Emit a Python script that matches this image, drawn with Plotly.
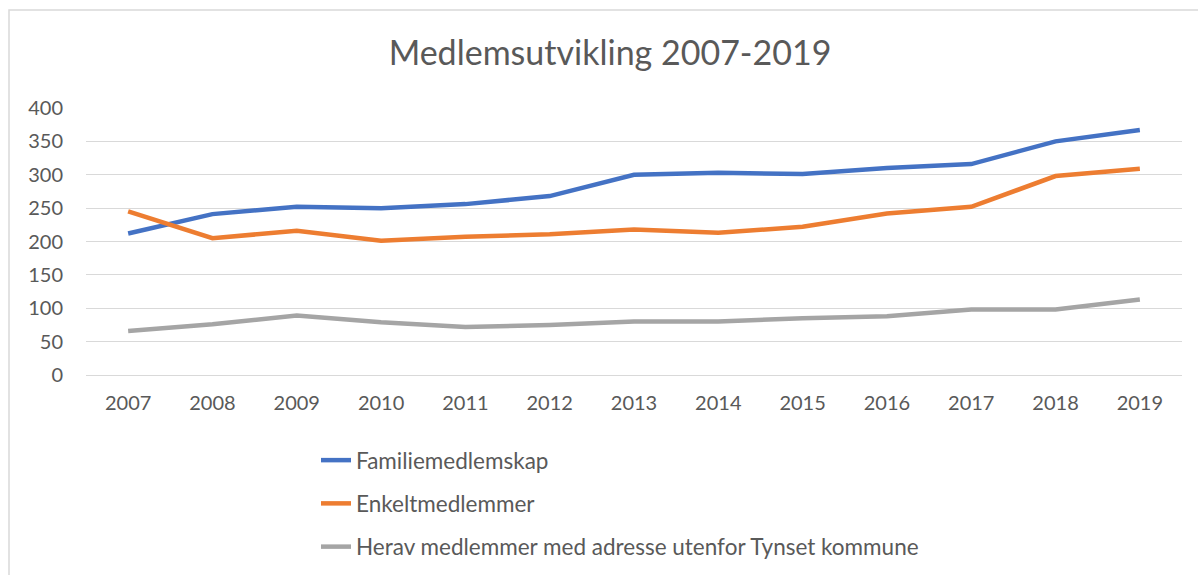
import plotly.graph_objects as go

years = ["2007", "2008", "2009", "2010", "2011", "2012", "2013",
         "2014", "2015", "2016", "2017", "2018", "2019"]
familie = [212, 241, 252, 250, 256, 268, 300, 303, 301, 310, 316, 350, 367]
enkelt = [245, 205, 216, 201, 207, 211, 218, 213, 222, 242, 252, 298, 309]
utenfor = [66, 76, 89, 79, 72, 75, 80, 80, 85, 88, 98, 98, 113]
names = ["Familiemedlemskap", "Enkeltmedlemmer",
         "Herav medlemmer med adresse utenfor Tynset kommune"]
colors = ["#4472C4", "#ED7D31", "#A5A5A5"]

FONT = "Lato"
W, H = 1198, 575
L, R, T, B = 86, 16, 108, 200
pw, ph = W - L - R, H - T - B

fig = go.Figure()
for i, (vals, nm) in enumerate(zip([familie, enkelt, utenfor], names)):
    fig.add_trace(go.Scatter(
        x=years, y=vals, name=nm, mode="lines",
        line=dict(color=colors[i], width=4.5),
        legendgroup=f"g{i}",
    ))

fig.update_layout(
    width=W, height=H,
    margin=dict(l=L, r=R, t=T, b=B, autoexpand=False),
    paper_bgcolor="white", plot_bgcolor="white",
    title=dict(text="Medlemsutvikling 2007-2019", x=610 / W, xanchor="center",
               y=1 - 53 / H, yanchor="middle",
               font=dict(family=FONT, size=34, color="#595959")),
    font=dict(family=FONT, color="#595959"),
    xaxis=dict(type="category", range=[-0.5, 12.5], showgrid=False,
               showline=False, ticks="", tickfont=dict(size=20, color="#595959"),
               ticklabelstandoff=14),
    yaxis=dict(range=[0, 400], dtick=50, showgrid=True, gridcolor="#D9D9D9",
               gridwidth=1, zeroline=True, zerolinecolor="#D9D9D9", zerolinewidth=1,
               showline=False, ticks="", tickfont=dict(size=20, color="#595959"),
               ticklabelstandoff=22),
    showlegend=True,
    legend=dict(orientation="v", x=(316 - L) / pw, xanchor="left",
                y=(H - B - 439) / ph, yanchor="top",
                font=dict(family=FONT, size=22.5, color="#595959"),
                traceorder="grouped", tracegroupgap=11,
                bgcolor="rgba(0,0,0,0)"),
    shapes=[dict(type="rect", xref="paper", yref="paper",
                 x0=(9 - L) / pw, x1=(W + 20 - L) / pw,
                 y0=(H - B - (H + 20)) / ph, y1=(H - B - 10) / ph,
                 line=dict(color="#D9D9D9", width=1.5), fillcolor="rgba(0,0,0,0)",
                 layer="below")],
)

fig.write_html("out.html", config={"displayModeBar": False},
               post_script="document.body.style.margin='0';document.body.style.overflow='hidden';")
